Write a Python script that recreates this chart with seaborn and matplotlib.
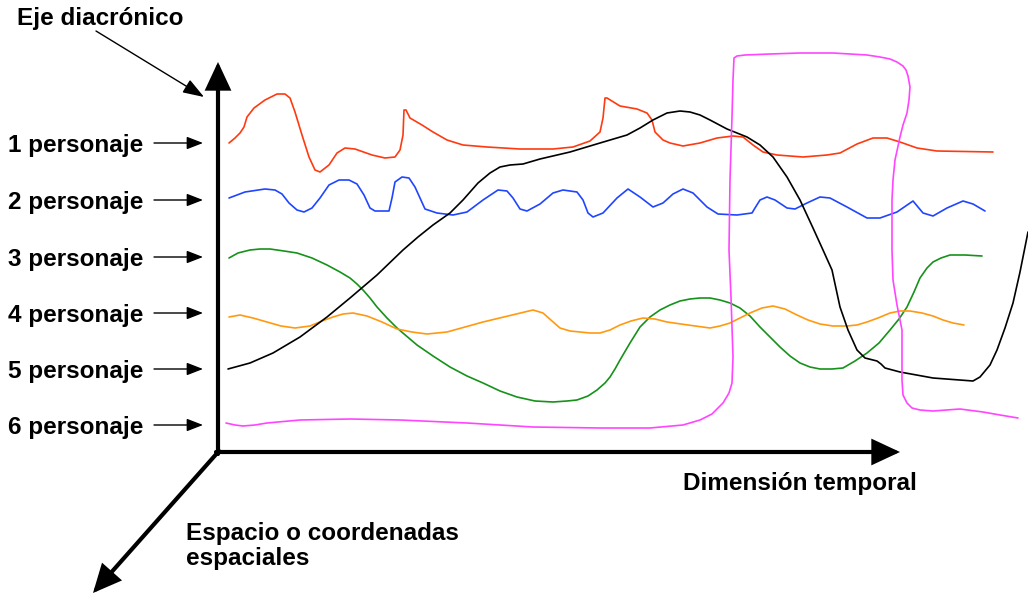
import matplotlib
matplotlib.use("Agg")
import matplotlib.pyplot as plt
import seaborn as sns
import pandas as pd

# ---- data (pixel-space readings of the hand-drawn trajectories) ----
series_names = ["1 personaje", "2 personaje", "3 personaje", "4 personaje", "5 personaje", "6 personaje"]
series_colors = ["#ff3a10", "#1f45ff", "#16921a", "#ff9a10", "#000000", "#ff45ff"]

red_x = [229, 235, 240, 244, 247, 254, 265, 277, 285, 290, 295, 302, 309, 315, 320, 329, 337, 345, 355, 372,
         385, 395, 400, 403, 404, 406, 410, 422, 433, 447, 463, 487, 520, 553, 573, 590, 600, 603, 605, 607,
         620, 637, 647, 652, 655, 663, 670, 683, 700, 717, 733, 743, 753, 763, 777, 803, 827, 840, 857, 873,
         887, 900, 917, 937, 993]
red_y = [143, 138, 133, 127, 117, 108, 100, 94, 94, 98, 112, 135, 157, 170, 172, 165, 153, 148, 149, 155,
         158, 157, 150, 135, 110, 110, 118, 125, 132, 140, 145, 147, 149, 149, 147, 141, 132, 118, 98, 98,
         106, 109, 113, 120, 132, 140, 143, 146, 143, 138, 136, 137, 145, 152, 155, 157, 155, 153, 144, 138,
         138, 142, 148, 151, 152]

blue_x = [229, 245, 265, 275, 282, 289, 297, 304, 312, 320, 329, 339, 349, 357, 364, 370, 375, 389, 392, 395,
          402, 409, 415, 420, 425, 437, 453, 467, 483, 498, 507, 513, 520, 527, 540, 553, 563, 577, 583, 588,
          593, 603, 617, 628, 640, 653, 663, 673, 683, 693, 707, 718, 737, 752, 755, 760, 767, 775, 787, 795,
          807, 820, 830, 847, 867, 880, 897, 913, 918, 923, 933, 947, 963, 973, 985]
blue_y = [198, 192, 189, 190, 194, 203, 210, 212, 208, 198, 185, 180, 180, 184, 195, 208, 211, 211, 198, 182,
          177, 178, 187, 198, 209, 213, 215, 212, 200, 190, 191, 198, 209, 211, 204, 193, 190, 192, 200, 213,
          217, 213, 198, 189, 197, 207, 203, 194, 189, 193, 207, 214, 215, 213, 208, 200, 197, 200, 208, 209,
          203, 197, 198, 207, 218, 218, 212, 201, 207, 213, 216, 208, 201, 204, 211]

green_x = [229, 238, 250, 260, 270, 284, 297, 312, 327, 340, 350, 357, 363, 370, 377, 387, 397, 417, 433, 450,
           467, 483, 500, 517, 535, 553, 567, 577, 588, 597, 605, 610, 615, 620, 630, 640, 650, 660, 670, 680,
           690, 700, 710, 720, 730, 740, 750, 760, 770, 780, 790, 800, 810, 820, 832, 843, 855, 867, 879, 890,
           899, 907, 914, 920, 927, 933, 941, 950, 965, 982]
green_y = [258, 253, 250, 249, 249, 251, 253, 258, 265, 272, 278, 284, 290, 298, 307, 318, 328, 345, 356, 367,
           376, 383, 391, 397, 401, 402, 401, 400, 396, 390, 383, 377, 369, 360, 343, 327, 317, 310, 305, 301,
           299, 298, 298, 300, 303, 308, 316, 327, 337, 347, 356, 363, 367, 369, 369, 368, 361, 353, 343, 330,
           319, 307, 292, 278, 268, 262, 258, 255, 255, 256]

orange_x = [229, 240, 253, 267, 281, 295, 310, 322, 333, 343, 353, 367, 382, 397, 412, 427, 447, 465, 483, 508,
            533, 543, 552, 560, 570, 580, 590, 600, 610, 620, 631, 643, 655, 667, 688, 710, 720, 730, 740, 750,
            762, 773, 785, 797, 808, 820, 833, 847, 857, 867, 878, 890, 900, 910, 922, 933, 943, 953, 964]
orange_y = [317, 315, 318, 322, 326, 328, 326, 321, 317, 314, 313, 316, 322, 329, 332, 334, 332, 327, 322, 316,
            310, 313, 321, 328, 331, 332, 333, 333, 330, 325, 321, 318, 319, 322, 325, 328, 326, 323, 318, 313,
            308, 306, 309, 315, 320, 324, 326, 326, 325, 322, 318, 313, 311, 311, 313, 316, 320, 323, 325]

black_x = [228, 250, 273, 300, 327, 350, 377, 403, 418, 433, 450, 463, 478, 490, 500, 510, 523, 540, 570, 600,
           627, 640, 653, 667, 680, 690, 700, 710, 727, 747, 760, 773, 787, 800, 813, 823, 832, 840, 848, 857,
           865, 877, 881, 885, 900, 933, 973, 980, 990, 997, 1005, 1013, 1020, 1028]
black_y = [369, 363, 353, 337, 317, 298, 275, 250, 237, 225, 213, 200, 183, 173, 167, 165, 164, 159, 152, 143,
           135, 128, 120, 113, 111, 112, 115, 120, 129, 137, 145, 157, 177, 200, 228, 250, 270, 307, 330, 350,
           358, 361, 364, 368, 372, 378, 381, 377, 365, 350, 328, 303, 272, 232]

pink_x = [226, 235, 243, 255, 267, 300, 350, 400, 467, 533, 600, 650, 683, 700, 712, 723, 729, 732, 733, 732,
          731, 729, 730, 732, 733, 734, 737, 745, 770, 800, 833, 867, 880, 890, 897, 903, 906, 908, 910, 909,
          907, 903, 900, 895, 893, 892, 892, 893, 897, 902, 902, 903, 907, 912, 920, 933, 960, 983, 1000, 1018]
pink_y = [423, 425, 426, 425, 423, 420, 419, 420, 423, 427, 428, 428, 425, 420, 414, 403, 393, 383, 357, 327,
          297, 250, 180, 117, 80, 58, 56, 55, 54, 53, 53, 55, 57, 59, 62, 66, 70, 76, 87, 100,
          113, 125, 137, 160, 180, 200, 250, 280, 305, 330, 380, 395, 403, 408, 410, 411, 409, 412, 415, 418]

label_rows = [152, 209, 266, 322, 378, 434]  # baselines of the character labels

# ---- assemble long table ----
frames = []
for name, xs, ys in zip(series_names,
                        [red_x, blue_x, green_x, orange_x, black_x, pink_x],
                        [red_y, blue_y, green_y, orange_y, black_y, pink_y]):
    frames.append(pd.DataFrame({"x": xs, "y": ys, "personaje": name}))
df = pd.concat(frames, ignore_index=True)

sns.set_theme(style="white")
plt.rcParams["font.family"] = ["Liberation Sans", "DejaVu Sans"]
plt.rcParams["text.color"] = "black"

fig = plt.figure(figsize=(10.28, 5.94), dpi=100)
ax = fig.add_axes([0, 0, 1, 1])
ax.set_xlim(0, 1028)
ax.set_ylim(594, 0)
ax.axis("off")

sns.lineplot(data=df, x="x", y="y", hue="personaje", hue_order=series_names,
             palette=series_colors, sort=False, estimator=None, legend=False,
             linewidth=1.2, ax=ax)
for ln in ax.get_lines():
    ln.set_solid_joinstyle("round")
    ln.set_solid_capstyle("round")

# ---- axes of the diagram ----
big = dict(arrowstyle="-|>,head_length=0.6,head_width=0.28", lw=3, color="black",
           mutation_scale=26, shrinkA=0, shrinkB=0, joinstyle="miter")
ax.annotate("", xy=(218, 62), xytext=(218, 454), arrowprops=big)
ax.annotate("", xy=(900, 452), xytext=(216, 452), arrowprops=big)
ax.annotate("", xy=(93, 593), xytext=(219, 451), arrowprops=big)

small = dict(arrowstyle="-|>,head_length=0.9,head_width=0.35", lw=1, color="black",
             mutation_scale=11, shrinkA=0, shrinkB=0)
for yb in label_rows:
    yc = yb - 9
    ax.annotate("", xy=(203, yc), xytext=(154, yc), arrowprops=small)

fs = 17.5
for name, yb in zip(series_names, label_rows):
    ax.text(8, yb, name, fontsize=fs, fontweight="bold", ha="left", va="baseline", color="black")

ax.text(17, 25, "Eje diacrónico", fontsize=fs, fontweight="bold", ha="left", va="baseline", color="black")
ax.annotate("", xy=(204, 97), xytext=(96, 31),
            arrowprops=dict(arrowstyle="-|>,head_length=1.0,head_width=0.35", lw=1, color="black",
                            mutation_scale=13, shrinkA=0, shrinkB=0))

ax.text(683, 490, "Dimensión temporal", fontsize=fs, fontweight="bold", ha="left", va="baseline", color="black")
ax.text(186, 540, "Espacio o coordenadas", fontsize=fs, fontweight="bold", ha="left", va="baseline", color="black")
ax.text(186, 565, "espaciales", fontsize=fs, fontweight="bold", ha="left", va="baseline", color="black")

fig.savefig("out.png", dpi=100)
